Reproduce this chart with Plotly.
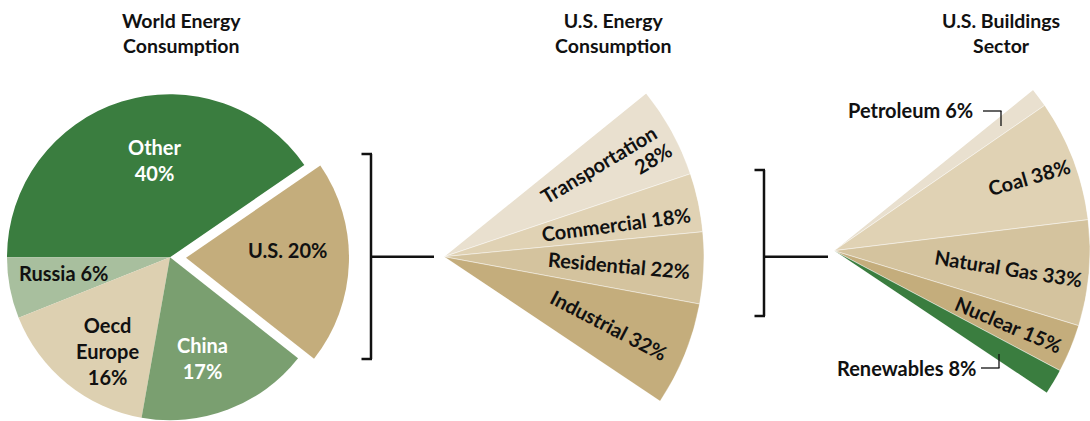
import math
import plotly.graph_objects as go

W, H = 1090, 421

# ---------------- data ----------------
world_labels = ["Other", "Russia", "Oecd Europe", "China", "U.S."]
world_values = [40, 6, 16, 17, 20]
world_colors = ["#3a7d3f", "#a8bf9e", "#ddd0b1", "#7a9f70", "#c4ad7c"]

us_labels = ["Transportation", "Commercial", "Residential", "Industrial"]
us_values = [28, 18, 22, 32]
us_colors = ["#e9e0cf", "#e0d2b4", "#d4c39e", "#c4ad7c"]

bld_labels = ["Petroleum", "Coal", "Natural Gas", "Nuclear", "Renewables"]
bld_values = [6, 38, 33, 15, 8]
bld_colors = ["#e9e0cf", "#e0d2b4", "#d4c39e", "#c4ad7c", "#3a7d3f"]

titles = ["World Energy<br>Consumption", "U.S. Energy<br>Consumption", "U.S. Buildings<br>Sector"]

# ---------------- layout geometry (pixels) ----------------
PIE_C = (170.0, 257.3)
PIE_R = 163.0
PULL_PX = 16.0
PIE_START = 34.5          # math angle where the first slice starts

FAN2_C = (444.0, 256.7)
FAN2_R = 260.0
FAN2_MID = 2.6
FAN3_C = (834.0, 250.7)
FAN3_R = 256.0
FAN3_MID = 2.6

FONT = "Lato"
BLACK = "#111111"
LABEL_SIZE = 20
TITLE_SIZE = 19.5


def px(x):
    return x / W


def py(y):
    return 1 - y / H


def circle_domain(cx, cy, r):
    return dict(x=[max(0, px(cx - r)), min(1, px(cx + r))],
                y=[max(0, py(cy + r)), min(1, py(cy - r))])


fig = go.Figure()

# ---------- world pie (two layered pies so the U.S. slice is pulled out) ----------
total = sum(world_values)
us_idx = world_labels.index("U.S.")
cum_before = sum(world_values[:us_idx])
mid_ang = math.radians(PIE_START + (cum_before + world_values[us_idx] / 2) / total * 360)
dx = PULL_PX * math.cos(mid_ang)
dy = -PULL_PX * math.sin(mid_ang)
first_deg = world_values[0] / total * 360
rotation = 90 - PIE_START - first_deg   # plotly: ccw pies end their first slice at `rotation`

colors_a = [c if l != "U.S." else "rgba(0,0,0,0)" for l, c in zip(world_labels, world_colors)]
colors_b = [c if l == "U.S." else "rgba(0,0,0,0)" for l, c in zip(world_labels, world_colors)]

for cols, (cx, cy) in [(colors_a, PIE_C), (colors_b, (PIE_C[0] + dx, PIE_C[1] + dy))]:
    fig.add_trace(go.Pie(
        labels=world_labels, values=world_values, sort=False,
        direction="counterclockwise", rotation=rotation,
        marker=dict(colors=cols, line=dict(width=0)),
        textinfo="none", hoverinfo="label+percent", showlegend=False,
        domain=circle_domain(cx, cy, PIE_R),
    ))

# ---------- fans (barpolar on sector-limited polar subplots) ----------
SPAN = world_values[us_idx] / total * 360


def add_fan(polar_name, center, R, mid, labels, values, colors):
    top = mid + SPAN / 2
    bot = mid - SPAN / 2
    tot = sum(values)
    thetas, widths = [], []
    cum = 0.0
    for v in values:
        w = v / tot * SPAN
        thetas.append(top - cum - w / 2)
        widths.append(w)
        cum += w
    fig.add_trace(go.Barpolar(
        r=[1] * len(values), theta=thetas, width=widths,
        marker=dict(color=colors, line=dict(color="rgba(255,255,255,0.55)", width=0.8)),
        text=labels, hoverinfo="text", showlegend=False, subplot=polar_name,
    ))
    y1 = max(math.sin(math.radians(top)), 0)
    y0 = min(math.sin(math.radians(bot)), 0)
    cx, cy = center
    dom = dict(x=[max(0, px(cx)), min(1, px(cx + R))],
               y=[max(0, py(cy - y0 * R)), min(1, py(cy - y1 * R))])
    fig.update_layout(**{polar_name: dict(
        domain=dom, sector=[bot, top], hole=0,
        bgcolor="rgba(0,0,0,0)",
        radialaxis=dict(visible=False, range=[0, 1]),
        angularaxis=dict(visible=False, rotation=0, direction="counterclockwise"),
    )})


add_fan("polar", FAN2_C, FAN2_R, FAN2_MID, us_labels, us_values, us_colors)
add_fan("polar2", FAN3_C, FAN3_R, FAN3_MID, bld_labels, bld_values, bld_colors)

# ---------- annotations ----------
ann = []


def add_text(text, x, y, angle=0, color=BLACK, size=LABEL_SIZE):
    ann.append(dict(text=text, x=px(x), y=py(y), xref="paper", yref="paper",
                    xanchor="center", yanchor="middle", showarrow=False,
                    textangle=angle, align="center",
                    font=dict(family=FONT, size=size, color=color, weight="bold")))


add_text(titles[0], 181, 33, size=TITLE_SIZE)
add_text(titles[1], 613, 33, size=TITLE_SIZE)
add_text(titles[2], 1001, 33, size=TITLE_SIZE)

add_text(f"{world_labels[0]}<br>{world_values[0]}%", 155, 160, color="white")
add_text(f"{world_labels[1]} {world_values[1]}%", 63, 273)
add_text(f"Oecd<br>Europe<br>{world_values[2]}%", 107, 351)
add_text(f"{world_labels[3]}<br>{world_values[3]}%", 202, 357.5, color="white")
add_text(f"{world_labels[4]} {world_values[4]}%", 287, 250)

add_text(us_labels[0], 599, 164, angle=-31)
add_text(f"{us_values[0]}%", 653, 158, angle=-31)
add_text(f"{us_labels[1]} {us_values[1]}%", 616, 224, angle=-7.5)
add_text(f"{us_labels[2]} {us_values[2]}%", 619, 265, angle=5)
add_text(f"{us_labels[3]} {us_values[3]}%", 609, 325, angle=27.5)

add_text(f"{bld_labels[0]} {bld_values[0]}%", 910, 110)
add_text(f"{bld_labels[1]} {bld_values[1]}%", 1029, 177, angle=-16)
add_text(f"{bld_labels[2]} {bld_values[2]}%", 1008, 268, angle=9)
add_text(f"{bld_labels[3]} {bld_values[3]}%", 1008, 324, angle=23)
add_text(f"{bld_labels[4]} {bld_values[4]}%", 906, 368)

# ---------- brackets and callout lines ----------
shapes = []


def seg(x0, y0, x1, y1, w=2.5):
    shapes.append(dict(type="line", xref="paper", yref="paper",
                       x0=px(x0), y0=py(y0), x1=px(x1), y1=py(y1),
                       line=dict(color=BLACK, width=w)))


# bracket 1
seg(361.5, 154, 372, 154)
seg(371, 154, 371, 359)
seg(361.5, 359, 372, 359)
seg(371, 256.7, 434, 256.7)
# bracket 2
seg(754.5, 170, 765, 170)
seg(764, 170, 764, 316)
seg(754.5, 316, 765, 316)
seg(764, 256.7, 828, 256.7)
# callouts
seg(983, 111, 1001.5, 111, 1.3)
seg(1001, 111, 1001, 126, 1.3)
seg(981, 368, 999.5, 368, 1.3)
seg(999, 368, 999, 354, 1.3)

fig.update_layout(
    width=W, height=H,
    margin=dict(l=0, r=0, t=0, b=0),
    paper_bgcolor="white", plot_bgcolor="white",
    showlegend=False,
    annotations=ann, shapes=shapes,
)

fig.write_html("out.html", config={"displayModeBar": False},
               post_script="document.body.style.margin='0';")
